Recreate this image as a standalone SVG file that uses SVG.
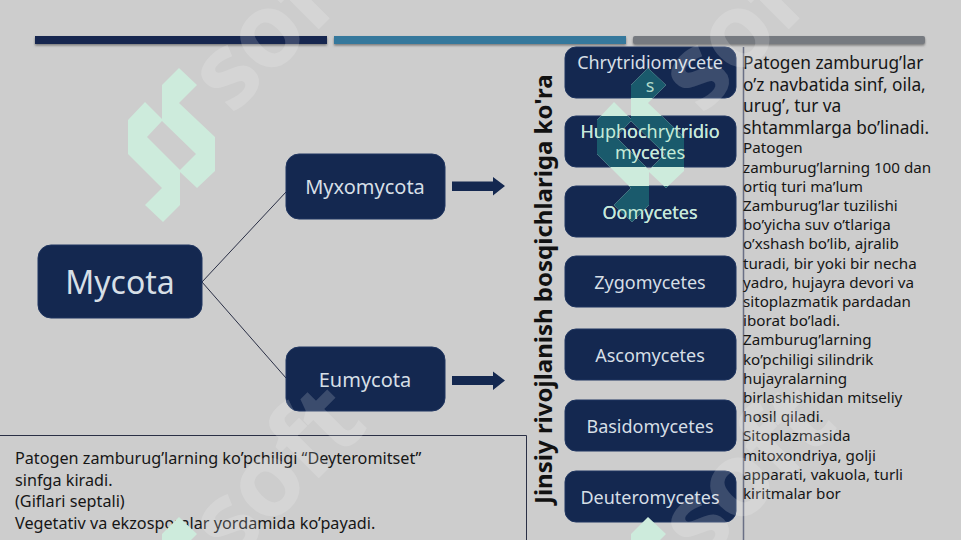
<svg xmlns="http://www.w3.org/2000/svg" xmlns:xlink="http://www.w3.org/1999/xlink" width="961" height="540" viewBox="0 0 961 540">
<defs>
<style>
text{font-family:"Noto Sans","Open Sans","DejaVu Sans",sans-serif}
.box{fill:#142850;stroke:#1f3560;stroke-width:1}
.lbl{fill:#d6dfe6;text-anchor:middle;font-size:18px}
.conn{stroke:#2a2f45;stroke-width:1;fill:none}
.body{fill:#161616;font-size:15.2px}
.big{fill:#161616;font-size:17.3px}
.bot{fill:#161616;font-size:16.2px}
.wm{fill:#fff;fill-opacity:.17;font-family:"Open Sans","Noto Sans",sans-serif;font-weight:700;font-size:104px;letter-spacing:-2px}
</style>
<path id="logo" fill-rule="evenodd" d="M179 68L197 85L179 103L215 137V171L197 188L180 172V205L163 222L145 205L162 188L128 154V120L145 102L162 119V85ZM162 121L147 137L180 170L196 154Z"/>
<clipPath id="boxclip"><rect x="565" y="47" width="171" height="51" rx="11"/><rect x="565" y="116" width="171" height="51" rx="11"/><rect x="565" y="186" width="171" height="51" rx="11"/></clipPath>
<filter id="sh" x="-2%" y="-50%" width="104%" height="220%"><feDropShadow dx="0" dy="1.5" stdDeviation="1.2" flood-color="#555" flood-opacity=".7"/></filter>
</defs>
<rect width="961" height="540" fill="#cdcdcd"/>
<g id="bars" filter="url(#sh)">
<rect x="35" y="36" width="292" height="8" fill="#142850"/>
<rect x="334" y="36" width="292" height="8" fill="#35789c"/>
<rect x="633" y="36" width="292" height="8" rx="2" fill="#767a80"/>
</g>
<g id="connectors">
<path class="conn" d="M202 282L286 192"/>
<path class="conn" d="M202 282L286 378"/>
<path id="arrow-1" fill="#142850" d="M452 181.500H493V177L505 186L493 195.500V191H452Z"/>
<path id="arrow-2" fill="#142850" d="M452 376H493V371.500L505 380.500L493 390V385H452Z"/>
<path class="conn" stroke-width="1" d="M526.500 540V435.500H0"/>
<path d="M743.500 47V540" stroke="#6a6f85" stroke-width="1.500" fill="none"/>
</g>
<g id="mycota"><rect class="box" x="38" y="245" width="164" height="73" rx="13"/><text class="lbl" x="120" y="294" style="font-size:32px">Mycota</text></g>
<g id="myxomycota"><rect class="box" x="286" y="154" width="159" height="65" rx="13"/><text class="lbl" x="365" y="194" style="font-size:20px">Myxomycota</text></g>
<g id="eumycota"><rect class="box" x="286" y="347" width="159" height="64" rx="13"/><text class="lbl" x="365" y="387" style="font-size:20px">Eumycota</text></g>
<g id="n1"><rect class="box" x="565" y="47" width="171" height="51" rx="11"/><text class="lbl" x="650" y="69">Chrytridiomycete</text><text class="lbl" x="650" y="92">s</text></g>
<g id="n2"><rect class="box" x="565" y="116" width="171" height="51" rx="11"/><text class="lbl" x="650" y="138">Huphochrytridio</text><text class="lbl" x="650" y="159">mycetes</text></g>
<g id="n3"><rect class="box" x="565" y="186" width="171" height="51" rx="11"/><text class="lbl" x="650" y="219">Oomycetes</text></g>
<g id="n4"><rect class="box" x="565" y="256" width="171" height="51" rx="11"/><text class="lbl" x="650" y="289">Zygomycetes</text></g>
<g id="n5"><rect class="box" x="565" y="329" width="171" height="51" rx="11"/><text class="lbl" x="650" y="362">Ascomycetes</text></g>
<g id="n6"><rect class="box" x="565" y="400" width="171" height="51" rx="11"/><text class="lbl" x="650" y="433">Basidomycetes</text></g>
<g id="n7"><rect class="box" x="565" y="471" width="171" height="51" rx="11"/><text class="lbl" x="650" y="504">Deuteromycetes</text></g>
<text id="vertical" transform="translate(552 504) rotate(-90)" fill="#111" font-size="24" font-weight="700">Jinsiy rivojlanish bosqichlariga ko'ra</text>
<g id="right-text">
<text class="big" x="743" y="69">Patogen zamburug’lar</text>
<text class="big" x="743" y="91">o’z navbatida sinf, oila,</text>
<text class="big" x="743" y="112">urug’, tur va</text>
<text class="big" x="743" y="134">shtammlarga bo’linadi.</text>
<text class="body" x="743" y="153">Patogen</text>
<text class="body" x="743" y="173">zamburug’larning 100 dan</text>
<text class="body" x="743" y="192">ortiq turi ma’lum</text>
<text class="body" x="743" y="211">Zamburug’lar tuzilishi</text>
<text class="body" x="743" y="230">bo’yicha suv o’tlariga</text>
<text class="body" x="743" y="249">o’xshash bo’lib, ajralib</text>
<text class="body" x="743" y="269">turadi, bir yoki bir necha</text>
<text class="body" x="743" y="288">yadro, hujayra devori va</text>
<text class="body" x="743" y="307">sitoplazmatik pardadan</text>
<text class="body" x="743" y="326">iborat bo’ladi.</text>
<text class="body" x="743" y="345">Zamburug’larning</text>
<text class="body" x="743" y="365">ko’pchiligi silindrik</text>
<text class="body" x="743" y="384">hujayralarning</text>
<text class="body" x="743" y="403">birlashishidan mitseliy</text>
<text class="body" x="743" y="422">hosil qiladi.</text>
<text class="body" x="743" y="441">Sitoplazmasida</text>
<text class="body" x="743" y="461">mitoxondriya, golji</text>
<text class="body" x="743" y="480">apparati, vakuola, turli</text>
<text class="body" x="743" y="499">kiritmalar bor</text>
</g>
<g id="bottom-text">
<text class="bot" x="15" y="464">Patogen zamburug’larning ko’pchiligi “Deyteromitset”</text>
<text class="bot" x="15" y="486">sinfga kiradi.</text>
<text class="bot" x="15" y="507">(Giflari septali)</text>
<text class="bot" x="15" y="529">Vegetativ va ekzosporalar yordamida ko’payadi.</text>
</g>
<g id="watermark">
<text class="wm" transform="translate(232 116) rotate(-45)">soft</text>
<text class="wm" transform="translate(702 116) rotate(-45)">soft</text>
<text class="wm" transform="translate(232 565) rotate(-45)">soft</text>
<text class="wm" transform="translate(702 565) rotate(-45)">soft</text>
<use xlink:href="#logo" fill="#cdebdc"/>
<use xlink:href="#logo" x="469" fill="#cdebdc"/>
<g clip-path="url(#boxclip)"><use xlink:href="#logo" x="469" fill="#1a5a6c"/></g>
<text class="lbl" x="650" y="92" fill-opacity=".9" style="fill:#c4ead8">s</text>
<text class="lbl" x="650" y="138" style="fill:#c4ead8">Huphochrytridio</text>
<text class="lbl" x="650" y="159" style="fill:#c4ead8">mycetes</text>
<text class="lbl" x="650" y="219" style="fill:#c4ead8">Oomycetes</text>
<use xlink:href="#logo" y="449" fill="#cdebdc"/>
<use xlink:href="#logo" x="469" y="449" fill="#cdebdc"/>
</g>
</svg>
